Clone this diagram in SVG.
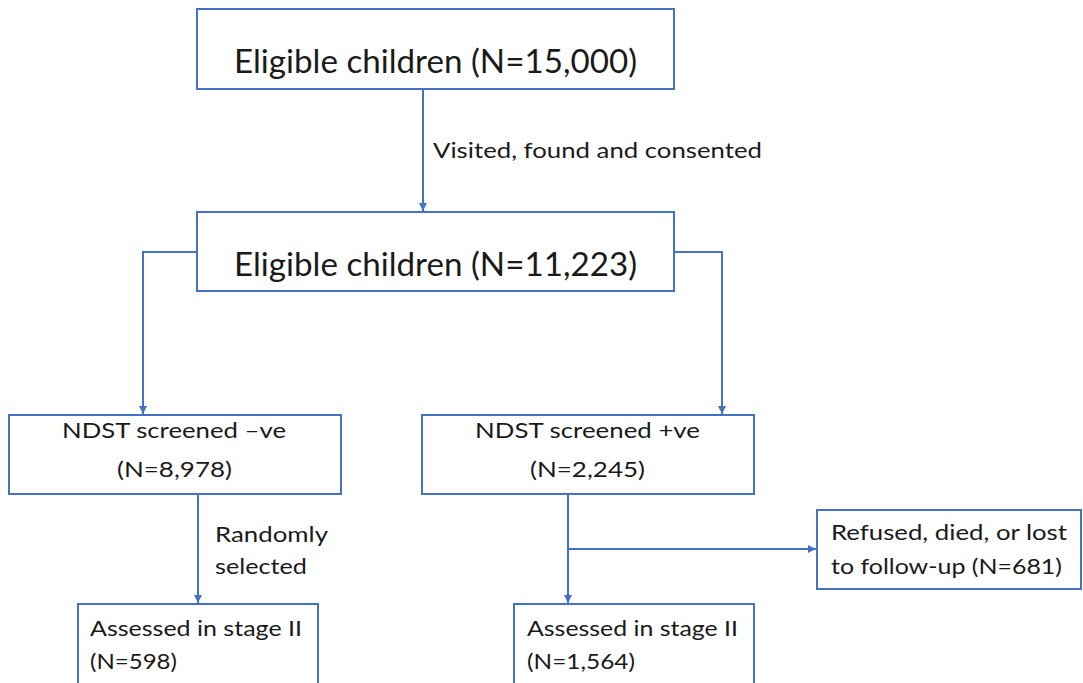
<svg xmlns="http://www.w3.org/2000/svg" width="1083" height="683" viewBox="0 0 1083 683">
<style>
.box{fill:#ffffff;stroke:#4472C4;stroke-width:2}
.ln{fill:none;stroke:#4472C4;stroke-width:2}
.big{font-family:Lato,"Liberation Sans",sans-serif;font-size:32px;fill:#1a1a1a}
.t{font-family:Lato,"Liberation Sans",sans-serif;font-size:22px;fill:#1a1a1a}
</style>
<defs>
<marker id="ah" markerUnits="userSpaceOnUse" markerWidth="9" markerHeight="9" refX="8" refY="4" orient="auto">
<path d="M0,0 L8,4 L0,8 z" fill="#4472C4"/>
</marker>
</defs>
<rect width="1083" height="683" fill="#ffffff"/>
<g id="connectors">
<line class="ln" x1="423" y1="89" x2="423" y2="211" marker-end="url(#ah)"/>
<polyline class="ln" points="197,252 143,252 143,414" marker-end="url(#ah)"/>
<polyline class="ln" points="674,252 722,252 722,414" marker-end="url(#ah)"/>
<line class="ln" x1="198" y1="494" x2="198" y2="603" marker-end="url(#ah)"/>
<line class="ln" x1="568" y1="494" x2="568" y2="603" marker-end="url(#ah)"/>
<line class="ln" x1="568" y1="549" x2="816" y2="549" marker-end="url(#ah)"/>
<text class="t" x="433" y="158" textLength="329" lengthAdjust="spacingAndGlyphs">Visited, found and consented</text>
<text class="t" x="215" y="542" textLength="113" lengthAdjust="spacingAndGlyphs">Randomly</text>
<text class="t" x="215" y="574" textLength="92" lengthAdjust="spacingAndGlyphs">selected</text>
</g>
<g id="n1">
<rect class="box" x="197" y="9" width="477" height="80"/>
<text class="big" x="234" y="73" textLength="403" lengthAdjust="spacingAndGlyphs">Eligible children (N=15,000)</text>
</g>
<g id="n2">
<rect class="box" x="197" y="212" width="477" height="79"/>
<text class="big" x="234" y="276" textLength="403" lengthAdjust="spacingAndGlyphs">Eligible children (N=11,223)</text>
</g>
<g id="n3">
<rect class="box" x="9" y="415" width="332" height="79"/>
<text class="t" x="62" y="438" textLength="224" lengthAdjust="spacingAndGlyphs">NDST screened –ve</text>
<text class="t" x="117" y="477" textLength="115" lengthAdjust="spacingAndGlyphs">(N=8,978)</text>
</g>
<g id="n4">
<rect class="box" x="422" y="415" width="332" height="79"/>
<text class="t" x="475" y="438" textLength="225" lengthAdjust="spacingAndGlyphs">NDST screened +ve</text>
<text class="t" x="530" y="477" textLength="115" lengthAdjust="spacingAndGlyphs">(N=2,245)</text>
</g>
<g id="n5">
<rect class="box" x="78" y="604" width="240" height="90"/>
<text class="t" x="90" y="636" textLength="212" lengthAdjust="spacingAndGlyphs">Assessed in stage II</text>
<text class="t" x="90" y="669" textLength="87" lengthAdjust="spacingAndGlyphs">(N=598)</text>
</g>
<g id="n6">
<rect class="box" x="514" y="604" width="240" height="90"/>
<text class="t" x="527" y="636" textLength="211" lengthAdjust="spacingAndGlyphs">Assessed in stage II</text>
<text class="t" x="527" y="669" textLength="108" lengthAdjust="spacingAndGlyphs">(N=1,564)</text>
</g>
<g id="n7">
<rect class="box" x="817" y="510" width="264" height="79"/>
<text class="t" x="831" y="540" textLength="236" lengthAdjust="spacingAndGlyphs">Refused, died, or lost</text>
<text class="t" x="831" y="574" textLength="231" lengthAdjust="spacingAndGlyphs">to follow-up (N=681)</text>
</g>
</svg>
